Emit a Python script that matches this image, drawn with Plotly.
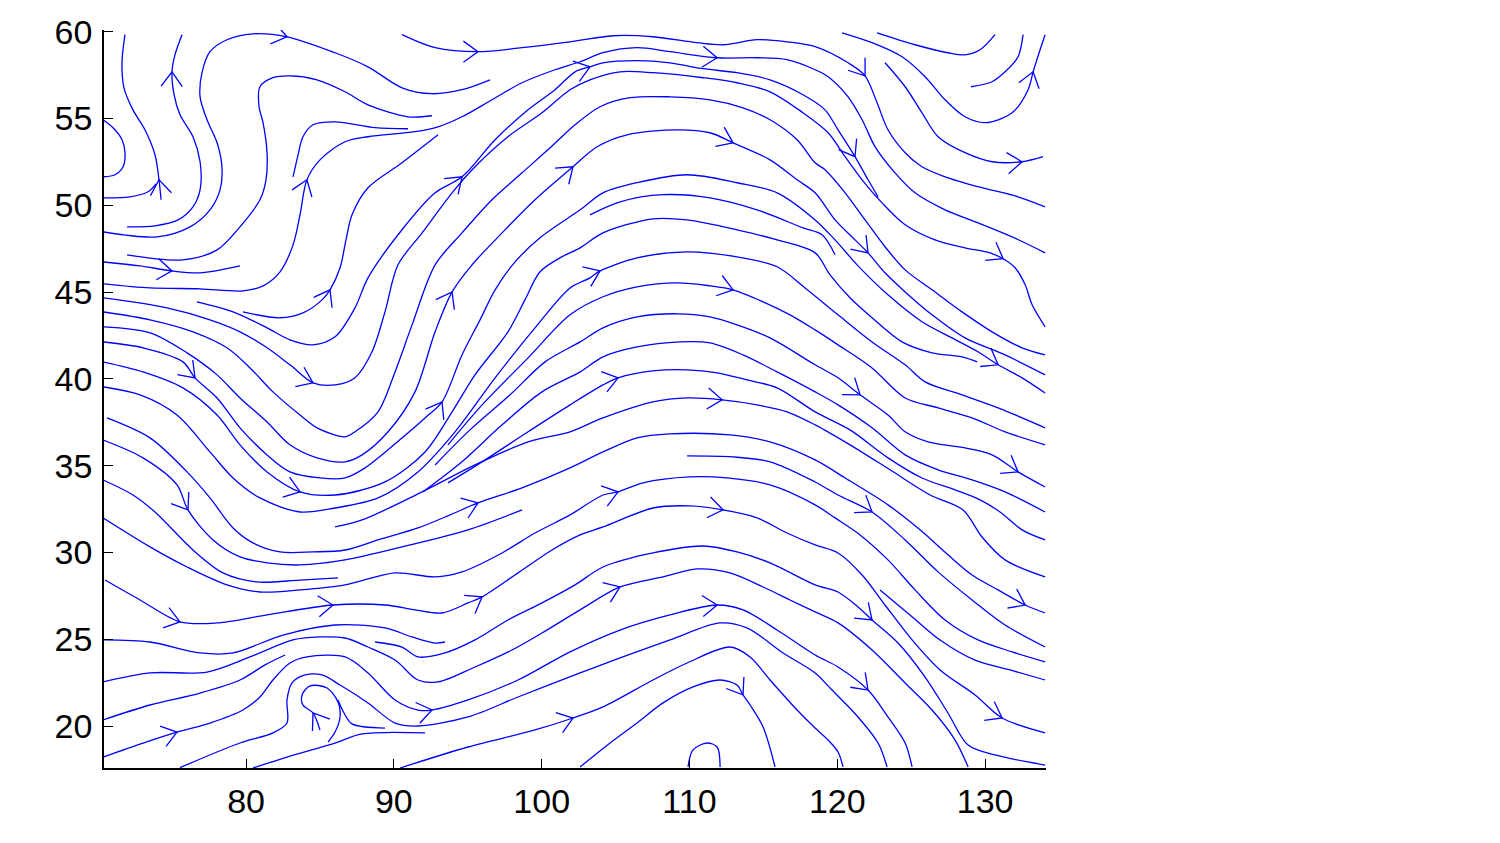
import math
import plotly.graph_objects as go

# ---------------- axis settings ----------------
X_RANGE = [70.39, 134.12]
Y_RANGE = [17.58, 60.10]
X_TICKS = [80, 90, 100, 110, 120, 130]
Y_TICKS = [20, 25, 30, 35, 40, 45, 50, 55, 60]

# ---------------- streamlines (data units, in flow order) ----------------
s01_x = [74.25, 74.11, 73.84, 73.16, 72.35, 71.74, 71.61, 71.81]
s01_y = [50.32, 51.47, 52.91, 54.35, 55.50, 56.77, 58.27, 59.83]
s02_x = [70.39, 72.15, 73.37, 73.91]
s02_y = [50.43, 50.49, 50.78, 51.24]
s03_x = [70.32, 71.00, 71.61, 71.81, 71.68, 71.13, 70.32]
s03_y = [54.93, 54.47, 53.78, 53.03, 52.22, 51.76, 51.64]
s04_x = [71.95, 73.84, 75.40, 76.41, 76.89, 76.89, 76.41, 75.53, 75.13, 74.99, 75.19, 75.67]
s04_y = [48.76, 48.82, 49.16, 49.91, 50.89, 52.51, 53.95, 55.22, 56.37, 57.69, 58.67, 59.83]
s05_x = [70.32, 73.98, 76.21, 77.56, 78.24, 78.37, 78.04, 77.36, 76.89, 77.02, 77.56, 78.71, 80.47, 82.77, 86.02, 88.25, 90.55, 92.58, 94.61, 96.51]
s05_y = [48.47, 48.18, 48.76, 49.74, 50.89, 52.22, 53.60, 54.93, 56.25, 57.64, 58.85, 59.54, 59.88, 59.71, 58.79, 57.98, 56.77, 56.43, 56.66, 57.23]
s06_x = [71.95, 75.73, 78.04, 79.59, 80.94, 81.35, 81.42, 81.15, 80.88, 80.94, 81.82, 82.97, 84.80, 86.70, 88.25, 90.96, 92.58]
s06_y = [47.15, 46.86, 47.43, 48.76, 50.32, 51.47, 53.03, 54.76, 55.68, 56.83, 57.35, 57.46, 57.23, 56.54, 55.79, 55.10, 55.16]
s07_x = [83.18, 83.52, 83.85, 84.53, 86.02, 88.73, 90.96]
s07_y = [51.64, 52.91, 53.95, 54.64, 54.81, 54.47, 54.41]
s08_x = [70.32, 72.83, 74.99, 76.89, 79.59]
s08_y = [46.74, 46.51, 46.22, 46.11, 46.51]
s09_x = [90.55, 92.79, 95.69, 98.67, 101.92, 104.83, 107.53, 110.51, 112.27, 114.57, 116.60, 118.50, 120.73, 121.88, 122.69, 123.43, 124.59, 125.73, 127.29, 129.52, 132.23, 134.06]
s09_y = [59.83, 59.08, 58.85, 59.08, 59.42, 59.77, 59.71, 59.37, 59.25, 59.54, 59.42, 59.14, 58.21, 57.46, 55.91, 54.35, 53.03, 52.22, 51.64, 51.07, 50.49, 49.91]
s10_x = [70.32, 73.50, 76.89, 79.79, 81.15, 82.30, 83.18, 83.65, 84.12, 85.00, 86.70, 88.25, 91.43, 92.99, 94.61, 96.64, 98.67, 100.90, 102.60, 104.15, 106.45, 108.68, 111.87, 114.57, 116.60, 118.50, 119.38, 120.73, 121.68, 122.56, 123.91, 125.26, 127.29, 129.52, 131.83, 134.06]
s10_y = [45.48, 45.24, 45.19, 45.07, 45.36, 46.17, 47.72, 49.45, 51.47, 52.62, 53.66, 53.95, 54.24, 54.52, 55.10, 56.08, 57.06, 57.81, 58.27, 58.79, 59.08, 58.85, 58.50, 58.50, 58.39, 57.81, 57.41, 56.25, 54.93, 53.37, 51.87, 50.72, 49.74, 48.99, 48.18, 47.26]
s11_x = [79.79, 82.30, 83.85, 85.14, 85.68, 86.36, 86.76, 87.17, 88.25, 90.55, 92.99]
s11_y = [43.86, 43.52, 43.80, 44.55, 45.13, 46.40, 48.01, 49.45, 51.01, 52.45, 54.06]
s12_x = [76.68, 79.12, 81.42, 82.97, 84.53, 86.02, 87.37, 88.25, 90.55, 92.79, 94.61, 96.85, 99.08, 100.90, 102.26, 103.27, 104.15, 106.45, 108.68, 110.92, 113.22, 115.45, 117.68, 119.17, 120.05, 121.20, 122.08, 122.76]
s12_y = [44.44, 43.86, 42.94, 42.25, 41.96, 42.42, 44.09, 45.82, 48.59, 50.72, 51.64, 53.78, 55.50, 56.66, 57.69, 57.98, 58.21, 58.33, 58.21, 57.87, 57.64, 57.23, 56.37, 55.50, 54.35, 52.80, 51.47, 50.49]
s13_x = [70.32, 74.65, 77.56, 79.59, 81.42, 82.97, 84.53, 86.02, 87.37, 88.52, 89.40, 90.28, 91.91, 93.94, 95.49, 97.72, 100.02, 101.92, 103.27, 105.30, 107.53, 110.92, 113.22, 115.45, 117.68, 119.38, 120.53, 121.68, 123.03, 124.59, 126.61, 128.64, 130.33, 131.22, 132.03, 132.71, 133.18, 134.06]
s13_y = [44.67, 44.09, 43.40, 42.71, 41.79, 40.81, 39.77, 39.65, 40.06, 41.56, 43.86, 46.57, 48.41, 50.72, 52.22, 53.95, 55.33, 56.66, 57.23, 57.69, 57.64, 57.35, 57.06, 56.54, 55.33, 54.18, 52.80, 51.47, 50.14, 48.88, 48.01, 47.55, 47.26, 46.92, 46.40, 45.42, 44.27, 43.00]
s14_x = [70.32, 73.50, 76.41, 78.71, 80.27, 81.82, 83.65, 84.80, 86.70, 87.37, 88.93, 90.08, 91.23, 92.79, 94.61, 96.64, 98.67, 100.57, 102.26, 103.95, 105.98, 108.68, 111.39, 113.62, 115.45, 117.28, 118.50, 119.17, 120.53, 121.88, 123.23, 124.59, 126.41, 128.44, 130.47, 132.50, 134.06]
s14_y = [43.86, 43.40, 42.71, 41.79, 40.63, 39.25, 37.92, 37.18, 36.66, 36.95, 38.10, 40.40, 43.11, 46.57, 48.41, 50.32, 51.87, 53.31, 54.64, 55.68, 56.20, 56.25, 56.08, 55.62, 54.93, 53.78, 52.45, 52.05, 50.72, 49.16, 47.61, 46.28, 45.13, 43.86, 42.71, 41.79, 41.38]
s15_x = [70.32, 73.50, 76.01, 78.04, 79.59, 81.42, 82.97, 84.80, 86.70, 87.85, 89.61, 91.43, 92.79, 93.94, 95.29, 97.32, 99.55, 102.12, 103.75, 105.78, 109.16, 111.39, 112.95, 115.45, 117.28, 118.50, 119.85, 121.20, 122.08, 123.23, 124.59, 126.41, 128.64, 131.35, 134.06]
s15_y = [43.00, 42.65, 41.50, 40.23, 38.90, 37.52, 36.20, 35.45, 35.22, 35.62, 36.95, 39.25, 42.71, 45.01, 46.57, 48.41, 50.32, 52.22, 53.37, 54.06, 54.35, 54.18, 53.60, 52.62, 51.47, 50.72, 49.16, 48.01, 47.26, 46.11, 45.01, 43.69, 42.36, 41.38, 40.23]
s16_x = [70.32, 73.03, 75.73, 76.55, 78.04, 79.59, 81.42, 82.97, 85.00, 86.70, 88.05, 90.55, 92.11, 93.26, 94.61, 95.83, 96.85, 98.20, 99.89, 102.60, 104.15, 106.45, 109.84, 113.22, 115.93, 118.50, 119.85, 121.34, 123.43, 125.73, 127.76, 129.52, 130.88, 132.50, 134.06]
s16_y = [42.13, 41.79, 40.98, 40.06, 38.90, 37.18, 35.62, 34.64, 34.29, 34.29, 34.87, 36.60, 37.75, 38.67, 41.38, 43.40, 45.13, 46.74, 48.13, 49.74, 50.72, 51.30, 51.76, 51.30, 50.72, 49.16, 48.01, 46.57, 44.84, 43.29, 42.36, 41.56, 40.81, 40.06, 39.19]
s17_x = [70.32, 73.03, 75.73, 78.04, 79.59, 81.42, 83.65, 86.02, 89.40, 92.11, 93.94, 95.49, 97.72, 98.87, 99.89, 101.24, 102.60, 104.15, 107.53, 109.84, 113.22, 115.93, 118.50, 119.51, 120.86, 122.35, 124.38, 126.41, 128.44, 129.46]
s17_y = [40.98, 40.40, 39.48, 37.92, 36.20, 34.64, 33.49, 33.31, 34.06, 35.79, 38.10, 40.23, 42.71, 44.55, 46.17, 46.97, 47.55, 48.41, 49.22, 49.16, 48.59, 48.01, 47.26, 45.99, 44.67, 43.52, 42.13, 41.50, 41.27, 40.98]
s18_x = [70.32, 72.83, 75.33, 77.56, 79.12, 80.94, 83.65, 86.02, 88.93, 91.63, 94.14, 96.85, 99.55, 101.92, 103.27, 103.95, 106.45, 109.84, 113.22, 115.93, 117.82, 120.05, 122.35, 124.59, 125.94, 128.44, 130.88, 134.06]
s18_y = [39.54, 39.08, 37.92, 35.79, 34.29, 33.14, 32.33, 32.56, 33.14, 34.64, 36.95, 40.06, 42.94, 45.24, 45.82, 46.22, 46.97, 47.32, 47.03, 46.46, 45.24, 43.69, 42.13, 40.81, 39.83, 39.08, 38.33, 37.18]
s19_x = [93.66, 95.97, 99.08, 101.92, 104.15, 106.45, 109.16, 111.39, 112.95, 114.98, 116.80, 118.50, 120.05, 122.35, 124.59, 126.82, 129.12, 131.35, 134.06]
s19_y = [36.20, 38.50, 41.21, 43.69, 44.73, 45.30, 45.53, 45.36, 45.13, 44.44, 43.69, 42.82, 41.96, 40.63, 38.90, 38.33, 37.75, 36.95, 36.20]
s20_x = [92.79, 95.15, 97.86, 100.23, 102.60, 104.15, 106.45, 109.16, 111.39, 113.22, 115.45, 118.50, 120.05, 121.54, 123.43, 124.59, 126.14, 128.64, 130.47, 132.23, 134.06]
s20_y = [35.04, 37.06, 39.08, 40.98, 42.13, 42.94, 43.57, 43.75, 43.57, 43.11, 42.36, 40.81, 40.06, 39.08, 37.92, 36.95, 36.37, 36.02, 35.62, 34.64, 33.77]
s21_x = [91.97, 94.61, 97.32, 100.02, 102.60, 104.15, 106.45, 109.36, 111.39, 113.62, 115.93, 118.50, 120.05, 122.35, 124.59, 126.82, 129.12, 131.35, 134.06]
s21_y = [33.49, 35.22, 37.35, 39.25, 40.40, 41.27, 41.84, 42.13, 42.07, 41.38, 40.40, 39.25, 38.50, 37.18, 35.62, 34.76, 34.18, 33.49, 32.33]
s22_x = [93.66, 95.97, 99.08, 101.92, 104.15, 105.17, 107.53, 109.84, 111.87, 113.89, 115.93, 118.50, 120.86, 123.43, 125.73, 127.97, 129.66, 131.01, 132.50, 134.06]
s22_y = [34.01, 35.22, 36.95, 38.50, 39.65, 40.06, 40.46, 40.52, 40.35, 39.94, 39.48, 38.10, 37.06, 35.45, 34.29, 33.60, 33.03, 32.33, 31.30, 30.72]
s23_x = [86.02, 87.85, 91.91, 95.49, 99.08, 101.92, 104.15, 107.53, 109.84, 112.21, 114.57, 116.60, 118.50, 120.86, 123.57, 126.28, 128.51, 129.79, 131.35, 134.06]
s23_y = [31.47, 31.87, 33.49, 35.04, 36.37, 36.95, 37.75, 38.67, 38.90, 38.79, 38.50, 38.10, 37.35, 36.20, 34.76, 33.31, 32.45, 30.89, 29.57, 28.59]
s24_x = [103.27, 105.30, 108.21, 111.39, 114.57, 117.68, 118.97, 119.85]
s24_y = [49.45, 50.20, 50.61, 50.43, 49.74, 48.70, 48.30, 47.15]
s25_x = [120.32, 122.35, 124.38, 125.94, 127.29, 128.64, 130.00, 131.83, 132.91, 133.25, 133.72, 134.06]
s25_y = [59.94, 59.37, 58.56, 57.41, 56.08, 55.10, 54.76, 55.33, 56.66, 57.69, 58.96, 59.83]
s26_x = [122.69, 125.26, 127.49, 128.64, 129.66, 130.67]
s26_y = [59.94, 59.25, 58.79, 58.67, 58.96, 59.83]
s27_x = [129.05, 130.47, 131.35, 132.23, 132.57]
s27_y = [56.83, 57.12, 57.69, 58.56, 59.83]
s28_x = [123.23, 124.59, 125.73, 126.82, 128.64, 130.47, 132.50, 133.92]
s28_y = [58.21, 56.83, 55.33, 53.95, 53.03, 52.51, 52.51, 52.80]
s29_x = [70.59, 73.50, 76.01, 77.56, 79.12, 80.47, 82.30, 84.53, 86.70, 88.93, 91.63, 93.80, 95.69, 98.67, 101.92, 104.15, 106.45, 108.68, 112.74, 115.45, 118.50, 120.53, 123.43, 125.60, 127.49, 129.12, 130.88, 132.71, 134.06]
s29_y = [37.75, 36.60, 34.64, 33.14, 31.41, 30.55, 30.03, 30.03, 30.14, 30.72, 31.41, 32.16, 32.85, 33.72, 34.87, 35.79, 36.60, 36.83, 36.77, 36.37, 35.33, 34.29, 32.74, 31.30, 29.86, 28.70, 27.84, 26.97, 26.51]
s30_x = [70.32, 73.03, 75.33, 76.07, 77.77, 79.59, 81.42, 83.65, 86.70, 90.55, 95.02, 98.67]
s30_y = [36.48, 35.45, 33.89, 32.45, 30.72, 29.74, 29.40, 29.28, 29.57, 30.32, 31.30, 32.45]
s31_x = [70.32, 72.35, 73.84, 76.41, 78.44, 80.74, 83.65, 86.22]
s31_y = [34.18, 33.31, 32.33, 30.14, 28.82, 28.30, 28.41, 28.53]
s32_x = [70.32, 73.50, 76.01, 78.71, 80.94, 83.65, 86.70, 90.08, 92.79, 94.61, 97.32, 99.55, 101.92, 104.15, 105.17, 106.86, 110.04, 112.54, 115.45, 118.50, 119.85, 121.54, 123.43, 125.26, 127.29, 129.52, 131.83, 134.06]
s32_y = [31.99, 30.32, 29.16, 28.13, 27.72, 27.84, 28.13, 28.82, 28.59, 28.88, 29.97, 31.12, 32.16, 33.31, 33.49, 34.01, 34.35, 34.29, 33.89, 32.74, 31.99, 31.01, 29.57, 27.84, 26.11, 24.96, 24.27, 23.69]
s33_x = [70.46, 72.83, 75.53, 78.04, 81.42, 85.88, 89.40, 91.43, 93.26, 95.02, 95.97, 98.40, 100.70, 102.60, 104.15, 107.53, 110.04, 112.27, 114.57, 116.60, 118.50, 120.05, 121.68, 123.23, 125.06, 126.95, 129.32, 131.15, 134.06]
s33_y = [28.41, 27.26, 26.00, 25.94, 26.40, 26.97, 26.97, 26.69, 26.51, 27.09, 27.44, 28.82, 30.14, 31.01, 31.47, 32.56, 32.68, 32.45, 31.99, 31.12, 30.43, 29.97, 28.70, 26.97, 24.96, 23.23, 21.79, 20.46, 19.60]
s34_x = [70.32, 73.50, 76.89, 79.12, 82.50, 86.02, 89.40, 91.23, 92.79, 93.46]
s34_y = [24.96, 24.84, 24.21, 24.21, 25.24, 25.82, 25.65, 25.13, 24.78, 24.84]
s35_x = [88.73, 90.55, 91.63, 93.46, 95.49, 97.72, 100.02, 102.26, 104.15, 107.53, 110.92, 113.22, 115.45, 118.50, 120.05, 121.40, 122.35, 124.11, 125.94, 127.49, 128.85, 130.67, 134.06]
s35_y = [24.84, 24.55, 23.98, 24.21, 24.96, 26.11, 27.09, 28.13, 29.16, 29.97, 30.37, 30.03, 29.40, 28.13, 27.72, 26.86, 26.11, 24.78, 22.82, 20.75, 18.90, 18.33, 17.75]
s36_x = [70.32, 73.50, 77.36, 80.27, 83.18, 85.00, 86.70, 88.25, 90.08, 91.63, 92.99, 95.49, 97.99, 100.02, 102.60, 105.30, 108.21, 110.51, 112.74, 114.98, 116.80, 118.50, 120.05, 122.35, 124.59, 126.41, 127.97, 128.85]
s36_y = [22.54, 23.06, 23.11, 23.98, 24.96, 25.13, 25.07, 24.55, 23.80, 22.65, 22.54, 23.40, 24.38, 25.36, 26.69, 28.01, 28.59, 29.05, 28.82, 28.01, 27.26, 26.57, 25.94, 24.38, 22.48, 20.92, 19.19, 17.64]
s37_x = [70.32, 73.03, 75.33, 77.56, 79.79, 80.94, 81.82, 82.97, 84.12, 86.70, 88.25, 90.08, 91.63, 92.58, 95.02, 98.40, 101.92, 105.30, 108.68, 111.87, 113.62, 115.93, 118.50, 120.05, 122.08, 123.43, 124.59, 125.06]
s37_y = [18.21, 19.02, 19.65, 20.17, 20.92, 21.67, 22.65, 23.63, 23.98, 23.98, 23.06, 21.50, 20.92, 20.92, 21.50, 22.65, 24.27, 25.53, 26.40, 26.97, 26.69, 25.53, 24.09, 23.40, 22.07, 20.52, 19.02, 17.64]
s38_x = [75.53, 79.59, 81.82, 82.77, 82.77, 83.11, 83.99, 85.14, 86.36, 88.25, 90.08, 91.63, 95.02, 98.40, 102.60, 105.30, 108.68, 112.07, 113.89, 116.33, 118.50, 119.65, 121.40, 122.76, 123.37]
s38_y = [17.60, 19.02, 19.60, 20.17, 21.50, 22.48, 22.94, 22.94, 22.36, 21.33, 20.17, 20.00, 20.52, 21.67, 23.06, 23.92, 24.96, 25.94, 25.65, 24.21, 23.06, 22.07, 20.52, 19.02, 17.64]
s39_x = [86.22, 86.63, 87.17, 89.40]
s39_y = [21.50, 20.75, 20.12, 19.88]
s40_x = [80.47, 82.77, 86.02, 87.85, 92.11]
s40_y = [17.58, 18.21, 19.02, 19.54, 19.60]
s41_x = [85.00, 84.53, 83.85, 83.79, 84.33, 85.48, 86.22, 86.36, 86.02, 85.55]
s41_y = [19.77, 20.75, 21.21, 21.79, 22.31, 22.19, 21.38, 20.52, 19.65, 19.08]
s42_x = [90.42, 95.02, 99.55, 102.12, 104.15, 107.53, 109.84, 112.74, 114.10, 115.45, 117.28, 118.50, 119.38, 120.05, 120.39]
s42_y = [17.58, 18.79, 19.77, 20.46, 21.10, 22.65, 23.63, 24.55, 23.98, 22.65, 20.92, 19.88, 19.19, 18.50, 17.64]
s43_x = [102.60, 104.63, 106.45, 108.21, 110.24, 112.07, 113.22, 113.62, 114.10, 114.98, 115.79]
s43_y = [17.64, 19.02, 20.17, 21.33, 22.25, 22.65, 22.36, 21.79, 21.21, 19.94, 17.64]
s44_x = [109.90, 110.24, 111.19, 111.87, 112.07]
s44_y = [17.64, 18.62, 19.02, 18.79, 17.64]
s45_x = [70.32, 73.50, 76.89, 79.59, 81.28, 82.64]
s45_y = [20.35, 21.21, 21.90, 22.65, 23.52, 24.09]
s46_x = [109.84, 112.95, 115.45, 118.50, 120.05, 122.35, 124.59, 126.82, 129.12, 131.35, 134.06]
s46_y = [35.56, 35.50, 35.22, 34.06, 33.31, 32.33, 30.72, 28.88, 27.26, 25.82, 24.55]
s47_x = [122.89, 124.92, 126.95, 129.32, 131.69, 134.06]
s47_y = [27.84, 26.40, 24.96, 23.80, 23.23, 22.65]

# (x, y, indices of points carrying an arrowhead)
streamlines = [
    (s01_x, s01_y, [1]), (s02_x, s02_y, []), (s03_x, s03_y, []),
    (s04_x, s04_y, [9]), (s05_x, s05_y, [13]), (s06_x, s06_y, []),
    (s07_x, s07_y, []), (s08_x, s08_y, [2]), (s09_x, s09_y, [2, 13]),
    (s10_x, s10_y, [8, 22]), (s11_x, s11_y, [4]), (s12_x, s12_y, [10, 15, 25]),
    (s13_x, s13_y, [6, 33]), (s14_x, s14_y, []), (s15_x, s15_y, [13, 17, 22, 28]),
    (s16_x, s16_y, [3, 13, 32]), (s17_x, s17_y, [6]), (s18_x, s18_y, [15]),
    (s19_x, s19_y, [8]), (s20_x, s20_y, [13, 19]), (s21_x, s21_y, []),
    (s22_x, s22_y, [5]), (s23_x, s23_y, [9]), (s24_x, s24_y, []),
    (s25_x, s25_y, [9]), (s26_x, s26_y, []), (s27_x, s27_y, []),
    (s28_x, s28_y, [6]), (s29_x, s29_y, [12, 27]), (s30_x, s30_y, [3]),
    (s31_x, s31_y, []), (s32_x, s32_y, [14]), (s33_x, s33_y, [2, 5, 10, 17, 27]),
    (s34_x, s34_y, []), (s35_x, s35_y, [16]), (s36_x, s36_y, [15]),
    (s37_x, s37_y, [2, 13, 19, 24]), (s38_x, s38_y, []), (s39_x, s39_y, []),
    (s40_x, s40_y, []), (s41_x, s41_y, [1]), (s42_x, s42_y, [3]),
    (s43_x, s43_y, [7]), (s44_x, s44_y, []), (s45_x, s45_y, []),
    (s46_x, s46_y, [5]), (s47_x, s47_y, []),
]

# ---------------- styling ----------------
LINE_COLOR = "#0000FF"
LINE_WIDTH = 1.3
FIG_W, FIG_H = 1500, 843
# the page body adds an 8 px offset; margins compensate so the axes sit where the reference has them
MARGIN = dict(l=96, r=462, t=22, b=83)
PLOT_W = FIG_W - MARGIN["l"] - MARGIN["r"]
PLOT_H = FIG_H - MARGIN["t"] - MARGIN["b"]
SX = PLOT_W / (X_RANGE[1] - X_RANGE[0])
SY = PLOT_H / (Y_RANGE[1] - Y_RANGE[0])
ARROW_LEN = 18.0
ARROW_HALF = math.radians(36)


def chevron(xs, ys, i):
    j0 = max(i - 1, 0)
    j1 = min(i + 1, len(xs) - 1)
    dx = (xs[j1] - xs[j0]) * SX
    dy = (ys[j1] - ys[j0]) * SY
    n = math.hypot(dx, dy) or 1.0
    ux, uy = -dx / n, -dy / n
    out_x, out_y = [], []
    for s in (1, -1):
        a = s * ARROW_HALF
        bx = ux * math.cos(a) - uy * math.sin(a)
        by = ux * math.sin(a) + uy * math.cos(a)
        out_x.append(xs[i] + bx * ARROW_LEN / SX)
        out_y.append(ys[i] + by * ARROW_LEN / SY)
    return [out_x[0], xs[i], out_x[1], None], [out_y[0], ys[i], out_y[1], None]


fig = go.Figure()
ax, ay = [], []
for xs, ys, arrows in streamlines:
    assert len(xs) == len(ys)
    fig.add_trace(go.Scatter(
        x=xs, y=ys, mode="lines",
        line=dict(color=LINE_COLOR, width=LINE_WIDTH, shape="spline", smoothing=0.9),
        hoverinfo="skip", showlegend=False))
    for i in arrows:
        cx, cy = chevron(xs, ys, i)
        ax += cx
        ay += cy

fig.add_trace(go.Scatter(
    x=ax, y=ay, mode="lines",
    line=dict(color=LINE_COLOR, width=LINE_WIDTH),
    hoverinfo="skip", showlegend=False))

axis_common = dict(
    showline=True, linecolor="black", linewidth=1.5,
    ticks="inside", ticklen=9, tickwidth=1.2, tickcolor="black",
    showgrid=False, zeroline=False, mirror=False, automargin=False,
    tickfont=dict(family="Liberation Sans, Arial, sans-serif", size=34, color="black"),
)
fig.update_xaxes(range=X_RANGE, tickvals=X_TICKS, ticklabelstandoff=2, **axis_common)
fig.update_yaxes(range=Y_RANGE, tickvals=Y_TICKS, ticklabelstandoff=3, **axis_common)

fig.update_layout(
    width=FIG_W, height=FIG_H, margin=MARGIN,
    paper_bgcolor="white", plot_bgcolor="white",
)

fig.write_html("out.html")
